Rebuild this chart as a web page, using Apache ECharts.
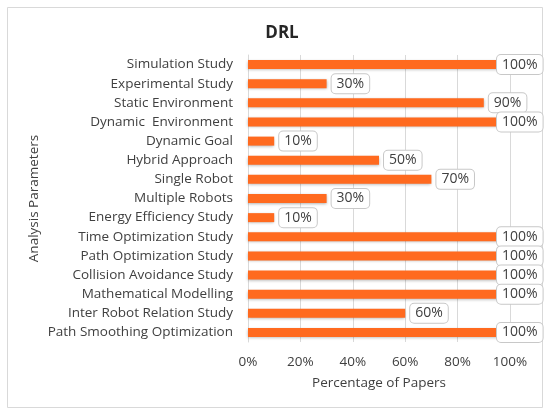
<!DOCTYPE html>
<html lang="en">
<head>
    <meta charset="UTF-8">
    <title>DRL</title>
    <script src="https://cdn.jsdelivr.net/npm/echarts@6/dist/echarts.min.js"></script>
    <style>
        html, body { margin: 0; padding: 0; background: #fff; }
    </style>
</head>
<body>
    <div id="main" style="width: 550px;height:415px;"></div>
    <script>
// categories, top to bottom
var categories = [
    'Simulation Study',
    'Experimental Study',
    'Static Environment',
    'Dynamic  Environment',
    'Dynamic Goal',
    'Hybrid Approach',
    'Single Robot',
    'Multiple Robots',
    'Energy Efficiency Study',
    'Time Optimization Study',
    'Path Optimization Study',
    'Collision Avoidance Study',
    'Mathematical Modelling',
    'Inter Robot Relation Study',
    'Path Smoothing Optimization'
];
var percentages = [100, 30, 90, 100, 10, 50, 70, 30, 10, 100, 100, 100, 100, 60, 100];
var xTicks = [0, 20, 40, 60, 80, 100];

var font = 'Open Sans';
var textColor = '#404040';

// labels of full bars are pushed back inside the chart frame
var seriesData = percentages.map(function (v) {
    if (v === 100) {
        return { value: v, label: { offset: [-18, 0] } };
    }
    return v;
});

var myChart = echarts.init(document.getElementById('main'));

var option = {
    backgroundColor: '#fff',
    textStyle: { fontFamily: font },
    title: {
        text: 'DRL',
        left: 277,
        top: 20,
        textAlign: 'center',
        textStyle: { fontFamily: font, fontSize: 17, fontWeight: 'bold', color: '#262626' }
    },
    graphic: [{
        type: 'rect',
        shape: { x: 7.5, y: 7.5, width: 535, height: 400 },
        style: { fill: 'none', stroke: '#d9d9d9', lineWidth: 1 },
        silent: true
    }],
    grid: { left: 248, right: 40, top: 55, bottom: 73 },
    xAxis: {
        type: 'value',
        min: xTicks[0],
        max: xTicks[xTicks.length - 1],
        interval: xTicks[1] - xTicks[0],
        name: 'Percentage of Papers',
        nameLocation: 'middle',
        nameGap: 34,
        nameTextStyle: { fontFamily: font, fontSize: 13.5, color: textColor },
        axisLine: { show: false },
        axisTick: { show: false },
        axisLabel: { formatter: '{value}%', fontFamily: font, fontSize: 13.5, color: textColor, margin: 13 },
        splitLine: { lineStyle: { color: '#d9d9d9' } }
    },
    yAxis: {
        type: 'category',
        inverse: true,
        data: categories,
        name: 'Analysis Parameters',
        nameLocation: 'middle',
        nameGap: 207,
        nameRotate: 90,
        nameTextStyle: { fontFamily: font, fontSize: 13.5, color: textColor },
        axisLine: { show: true, lineStyle: { color: '#d9d9d9' } },
        axisTick: { show: false },
        axisLabel: { fontFamily: font, fontSize: 13.5, color: textColor, margin: 15 }
    },
    series: [{
        type: 'bar',
        data: seriesData,
        barWidth: 9,
        itemStyle: {
            color: '#ff6a1f',
            shadowColor: 'rgba(0,0,0,0.3)',
            shadowBlur: 3,
            shadowOffsetY: 1
        },
        label: {
            show: true,
            position: 'right',
            distance: 5,
            formatter: '{c}%',
            fontFamily: font,
            fontSize: 14,
            color: textColor,
            backgroundColor: '#fff',
            borderColor: '#c8c8c8',
            borderWidth: 1,
            borderRadius: 4,
            padding: [3, 5, 2, 5]
        }
    }]
};

myChart.setOption(option);
    </script>
</body>
</html>
